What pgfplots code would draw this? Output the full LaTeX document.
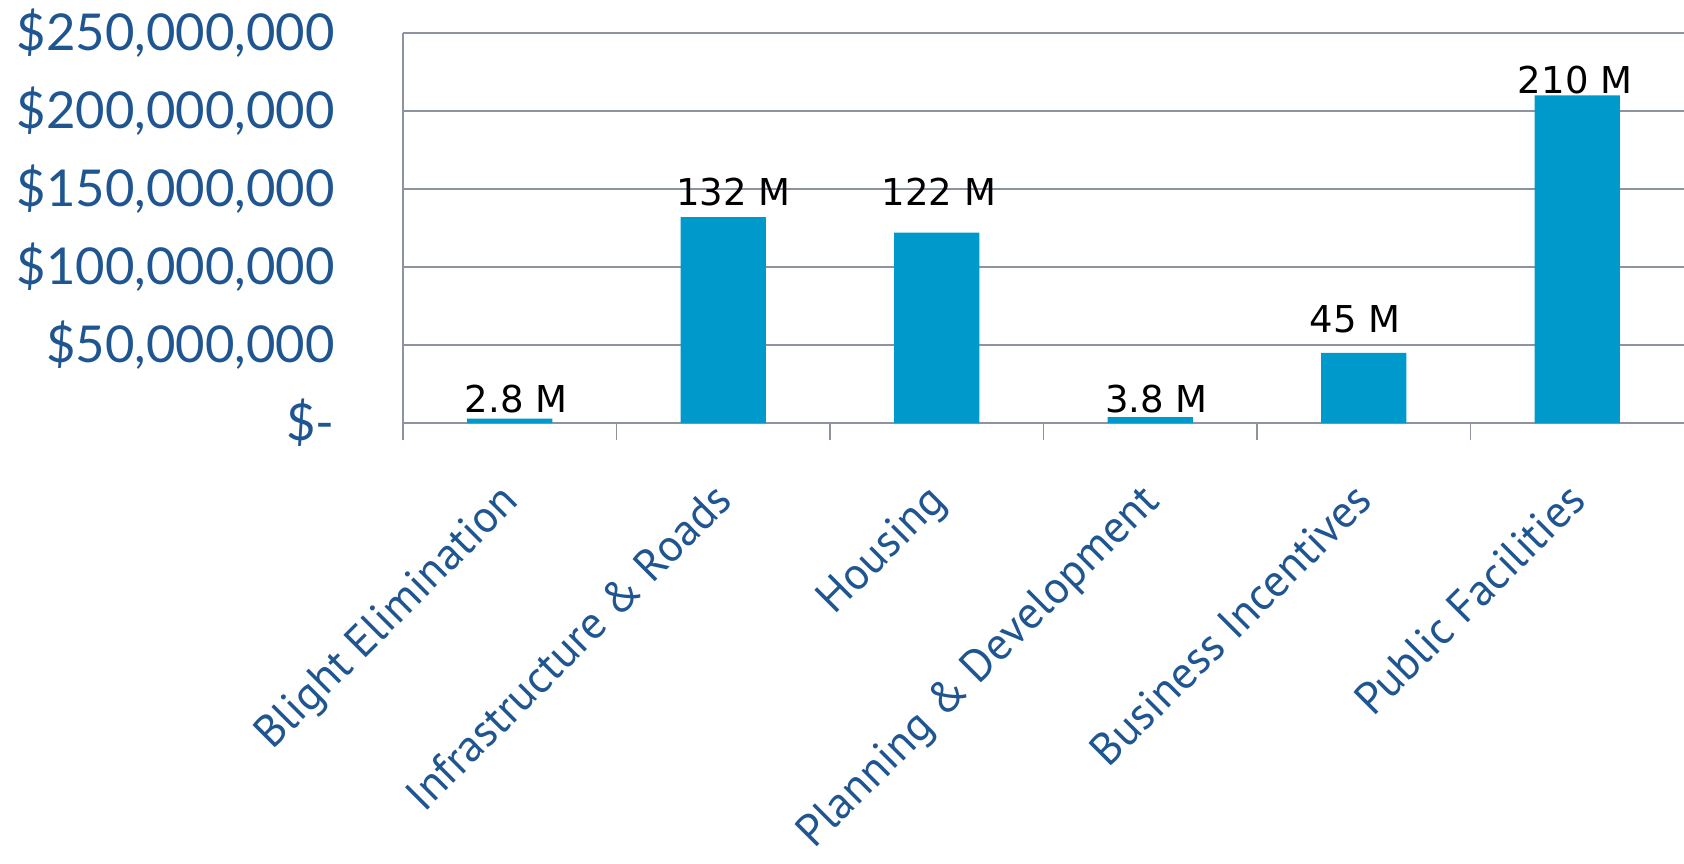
\documentclass[border=0pt]{standalone}
\usepackage{pgfplots}
\pgfplotsset{compat=1.18}
\usepackage{fontspec}
\setmainfont{Lato}
\newfontfamily\labelfont{PT Sans}
\newfontfamily\datafont{DejaVu Sans}
\definecolor{barblue}{HTML}{0099CC}
\definecolor{tickblue}{HTML}{1F5590}
\definecolor{gridgray}{HTML}{8E93A0}

\begin{document}
\begin{tikzpicture}
  \path[use as bounding box] (-201.5pt,-220pt) rectangle (640.5pt,211.5pt);
  \begin{axis}[at={(0,0)}, anchor=south west
    ,scale only axis
    ,width=640.5pt
    ,height=195pt
    ,xmin=-0.5
    ,xmax=5.5
    ,ymin=0
    ,ymax=250000000
    ,axis x line*=bottom
    ,axis y line*=left
    ,axis line style={gridgray, line width=0.75pt, -}
    ,ymajorgrids
    ,grid style={gridgray, line width=0.75pt}
    ,major tick length=0pt
    ,scaled y ticks=false
    ,ytick={0,50000000,100000000,150000000,200000000,250000000}
    ,yticklabels={{\$-},{\$50,000,000},{\$100,000,000},{\$150,000,000},{\$200,000,000},{\$250,000,000}}
    ,yticklabel style={font=\fontsize{25.4}{25.4}\selectfont, color=tickblue, anchor=east, inner sep=0pt, xshift=-34pt}
    ,xtick={0,1,2,3,4,5}
    ,xticklabels={Blight Elimination, Infrastructure \& Roads, Housing, Planning \& Development, Business Incentives, Public Facilities}
    ,xticklabel style={xshift=-6pt, yshift=-28.5pt, rotate=45, anchor=north east, inner sep=0pt,
        font=\labelfont\fontsize{22.6}{22.6}\selectfont, color=tickblue}
    ,extra x ticks={-0.5,0.5,1.5,2.5,3.5,4.5}
    ,extra x tick labels={}
    ,extra x tick style={major tick length=8.5pt, tick align=outside, grid=none,
        tick style={gridgray, line width=0.75pt}}
    ,clip=false
  ]
  % bars
  \addplot[ybar, fill=barblue, draw=none, bar width=0.4] coordinates {
    (0, 2800000)
    (1, 132000000)
    (2, 122000000)
    (3, 3800000)
    (4, 45000000)
    (5, 210000000)
  };
  % value labels, placed where the reference puts them
  \addplot[draw=none, mark=none
    ,point meta=explicit symbolic
    ,nodes near coords
    ,every node near coord/.append style={font=\datafont\fontsize{18.5}{18.5}\selectfont, black, anchor=base, inner sep=0pt}
  ] coordinates {
    (0.03, 7000000)   [2.8 M]
    (1.047, 139700000) [132 M]
    (2.01, 139700000) [122 M]
    (3.03, 7000000)   [3.8 M]
    (3.96, 57700000)  [45 M]
    (4.99, 211500000) [210 M]
  };
  \end{axis}
\end{tikzpicture}
\end{document}
